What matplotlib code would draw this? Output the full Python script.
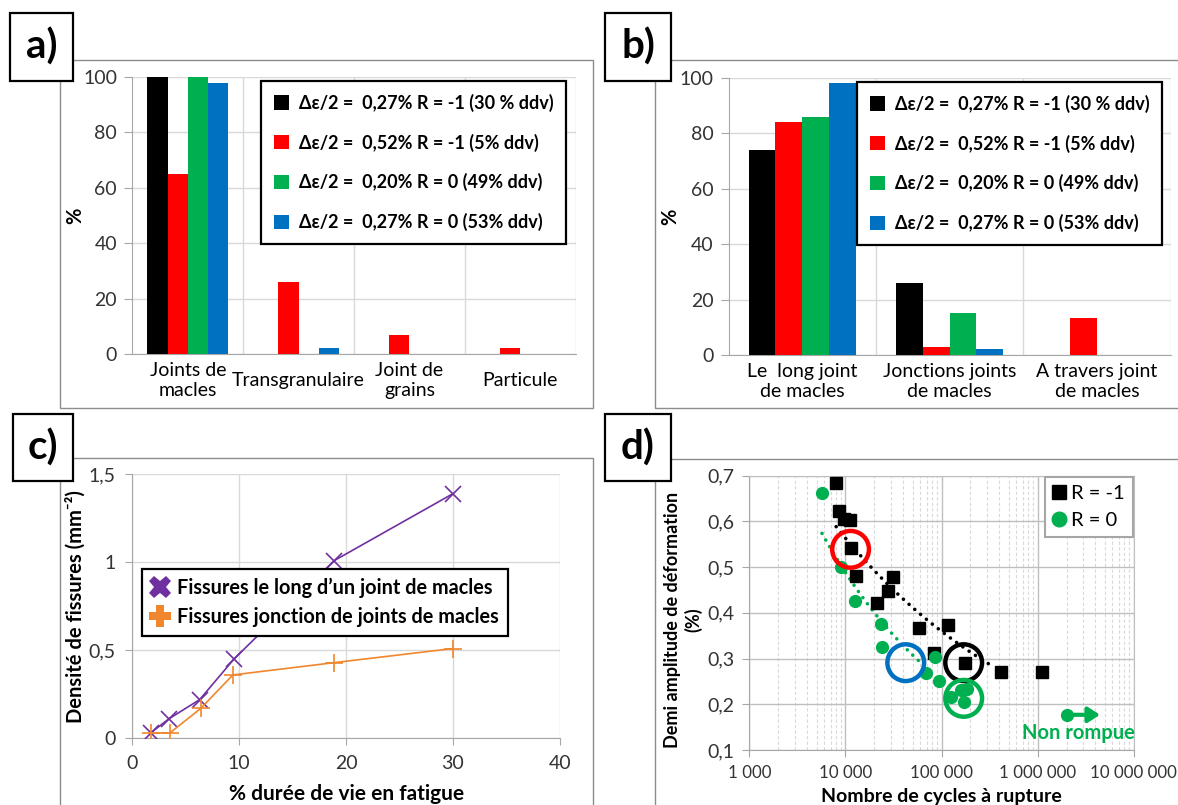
import numpy as np
import matplotlib.pyplot as plt
from matplotlib.patches import Rectangle, Patch
from matplotlib.lines import Line2D
from matplotlib.ticker import FuncFormatter, FixedLocator, LogLocator, NullFormatter

plt.rcParams['font.family'] = ['Lato', 'DejaVu Sans']

# donnees ######################################################################
series_labels = ['Δε/2 =  0,27% R = -1 (30 % ddv)',
                 'Δε/2 =  0,52% R = -1 (5% ddv)',
                 'Δε/2 =  0,20% R = 0 (49% ddv)',
                 'Δε/2 =  0,27% R = 0 (53% ddv)']
series_colors = ['#000000', '#FF0000', '#00B050', '#0070C0']

# a) site d'amorcage
cat_a = ['Joints de\nmacles', 'Transgranulaire', 'Joint de\ngrains', 'Particule']
vals_a = [[100, 0, 0, 0],
          [65, 26, 7, 2],
          [100, 0, 0, 0],
          [98, 2, 0, 0]]

# b) chemin de propagation
cat_b = ['Le  long joint\nde macles', 'Jonctions joints\nde macles', 'A travers joint\nde macles']
vals_b = [[74, 26, 0],
          [84, 3, 13.5],
          [86, 15, 0],
          [98, 2, 0]]

# c) densite de fissures
duree_long = [1.7, 3.4, 6.3, 9.5, 18.9, 30]
dens_long = [0.03, 0.11, 0.22, 0.45, 1.01, 1.39]
duree_jonc = [1.7, 3.5, 6.4, 9.4, 18.9, 30]
dens_jonc = [0.03, 0.03, 0.17, 0.36, 0.43, 0.51]

# d) courbe de Manson-Coffin
n_r1 = [8000, 8500, 9600, 11100, 11500, 12800, 21400, 27600, 31300, 57900, 116000, 84400, 175000, 411000, 1100000]
eps_r1 = [0.685, 0.623, 0.605, 0.603, 0.541, 0.481, 0.422, 0.448, 0.478, 0.366, 0.373, 0.312, 0.290, 0.270, 0.270]
n_r0 = [5740, 9080, 12700, 23700, 24000, 85000, 69700, 94400, 124000, 160000, 185000, 173000]
eps_r0 = [0.662, 0.500, 0.427, 0.376, 0.326, 0.303, 0.269, 0.252, 0.217, 0.231, 0.233, 0.206]
trend_r1 = [8000, 350000]
trend_r0 = [5700, 70000]
n_nonrompue = [2030000]
eps_nonrompue = [0.177]
cercles_n = [11300, 42400, 170000, 170000]
cercles_eps = [0.539, 0.291, 0.291, 0.213]
cercles_col = ['#FF0000', '#0070C0', '#000000', '#00B050']

# figure #######################################################################
W, H = 1178, 805
fig = plt.figure(figsize=(W / 100, H / 100), dpi=100)

def fx(x):
    return x / W

def fy(y):
    return 1 - y / H

def axes_px(x0, y0, x1, y1):
    return fig.add_axes([fx(x0), fy(y1), (x1 - x0) / W, (y1 - y0) / H])

grid_col = '#D9D9D9'
axis_col = '#A6A6A6'
tick_col = '#333333'
tick_size = 14
lab_size = 14.5

# cadres des graphes
for (x0, y0, x1, y1) in [(60, 60, 593, 408), (655, 60, 1190, 408),
                         (60, 458, 593, 815), (655, 459, 1190, 815)]:
    fig.add_artist(Rectangle((fx(x0), fy(y1)), (x1 - x0) / W, (y1 - y0) / H,
                             transform=fig.transFigure, fill=False,
                             edgecolor='#8C8C8C', lw=1, zorder=1))


def style_axes(ax):
    for s in ['top', 'right']:
        ax.spines[s].set_visible(False)
    for s in ['left', 'bottom']:
        ax.spines[s].set_color(axis_col)
    ax.tick_params(colors=axis_col, labelcolor=tick_col, labelsize=tick_size)


def bar_panel(ax, cats, vals, legend_xy):
    n = len(cats)
    x = np.arange(n)
    w = 0.73 / 4
    for i in range(4):
        ax.bar(x + (i - 1.5) * w, vals[i], w, color=series_colors[i], zorder=3)
    ax.set_xlim(-0.5, n - 0.5)
    ax.set_ylim(0, 100)
    ax.set_yticks(range(0, 101, 20))
    ax.set_xticks(x)
    ax.set_xticklabels(cats, va='center', fontsize=14, color='black', linespacing=1.25)
    ax.xaxis.set_minor_locator(FixedLocator(np.arange(n) + 0.5))
    ax.grid(axis='y', color=grid_col, lw=1, zorder=0)
    ax.grid(axis='x', which='minor', color=grid_col, lw=1, zorder=0)
    style_axes(ax)
    ax.tick_params(axis='x', which='both', length=0, pad=19, labelcolor='black')
    ax.tick_params(axis='y', length=6, pad=5)
    ax.set_ylabel('%', fontsize=lab_size, fontweight='bold')
    ax.yaxis.set_label_coords(-0.107, 0.5)
    handles = [Patch(facecolor=c) for c in series_colors]
    leg = ax.legend(handles, series_labels, loc='upper left',
                    bbox_to_anchor=(fx(legend_xy[0]), fy(legend_xy[1])),
                    bbox_transform=fig.transFigure, fancybox=False,
                    edgecolor='black', framealpha=1, handlelength=0.85,
                    handleheight=0.85, handletextpad=0.55, labelspacing=1.2,
                    borderpad=0.7, borderaxespad=0,
                    prop=dict(weight='bold', size=13))
    leg.get_frame().set_linewidth(1.6)
    leg.set_zorder(5)


ax_a = axes_px(132.4, 77, 575.6, 354)
bar_panel(ax_a, cat_a, vals_a, (261, 81))

ax_b = axes_px(728.7, 77.7, 1170.5, 355)
bar_panel(ax_b, cat_b, vals_b, (857, 82))
ax_b.yaxis.set_label_coords(-0.11, 0.5)

comma = FuncFormatter(lambda v, p: ('%g' % v).replace('.', ','))

# c) ###########################################################################
ax_c = axes_px(132.4, 474.3, 559.8, 738.3)
ax_c.plot(duree_long, dens_long, color='#7030A0', lw=1.2, marker='x', ms=11, mew=1.2, zorder=3)
ax_c.plot(duree_jonc, dens_jonc, color='#F0862E', lw=1.2, marker='+', ms=13, mew=1.2, zorder=3)
ax_c.set_xlim(0, 40)
ax_c.set_ylim(0, 1.5)
ax_c.set_xticks(range(0, 41, 10))
ax_c.set_yticks([0, 0.5, 1, 1.5])
ax_c.yaxis.set_major_formatter(comma)
ax_c.grid(color=grid_col, lw=1, zorder=0)
style_axes(ax_c)
ax_c.tick_params(length=5, pad=7)
ax_c.set_ylabel('Densité de fissures (mm⁻²)', fontsize=lab_size, fontweight='bold')
ax_c.yaxis.set_label_coords(-0.109, 0.5)
ax_c.set_xlabel('% durée de vie en fatigue', fontsize=15, fontweight='bold')
ax_c.xaxis.set_label_coords(0.5, -0.175)
hc = [Line2D([], [], ls='none', marker='X', ms=16, color='#7030A0', mew=0),
      Line2D([], [], ls='none', marker='P', ms=16, color='#F0862E', mew=0)]
leg = ax_c.legend(hc, ['Fissures le long d’un joint de macles',
                       'Fissures jonction de joints de macles'],
                  loc='upper left', bbox_to_anchor=(fx(141.5), fy(568.7)),
                  bbox_transform=fig.transFigure, fancybox=False,
                  edgecolor='black', framealpha=1, handlelength=1.0,
                  handletextpad=0.35, labelspacing=0.45, borderpad=0.45,
                  borderaxespad=0, prop=dict(weight='bold', size=14.3))
leg.get_frame().set_linewidth(1.6)
leg.set_zorder(5)

# d) ###########################################################################
ax_d = axes_px(749.4, 475.7, 1133.7, 750)
ax_d.set_xscale('log')
ax_d.set_xlim(1e3, 1e7)
ax_d.set_ylim(0.1, 0.7)
ax_d.set_yticks(np.round(np.arange(0.1, 0.71, 0.1), 1))
ax_d.yaxis.set_major_formatter(comma)
ax_d.xaxis.set_major_locator(LogLocator(base=10, numticks=10))
ax_d.xaxis.set_minor_locator(LogLocator(base=10, subs=np.arange(2, 10), numticks=100))
ax_d.xaxis.set_minor_formatter(NullFormatter())
ax_d.xaxis.set_major_formatter(FuncFormatter(lambda v, p: '{:,}'.format(int(round(v))).replace(',', ' ')))
ax_d.grid(which='major', color='#BFBFBF', lw=1, zorder=0)
ax_d.grid(which='minor', axis='x', color=grid_col, lw=0.8, ls=(0, (3, 2)), zorder=0)
style_axes(ax_d)
ax_d.spines['right'].set_visible(True)
ax_d.spines['right'].set_color('#BFBFBF')
ax_d.spines['top'].set_visible(True)
ax_d.spines['top'].set_color('#BFBFBF')
ax_d.tick_params(which='major', length=5, pad=6)
ax_d.tick_params(axis='x', which='major', labelsize=12.2)
ax_d.tick_params(which='minor', length=0)


def power_fit(x, y, lims):
    b, a = np.polyfit(np.log(x), np.log(y), 1)
    xs = np.logspace(np.log10(lims[0]), np.log10(lims[1]), 120)
    return xs, np.exp(a) * xs ** b


xs, ys = power_fit(n_r1, eps_r1, trend_r1)
ax_d.plot(xs, ys, color='black', lw=2.6, ls=(0, (0.01, 2.1)), dash_capstyle='round', zorder=2)
xs, ys = power_fit(n_r0, eps_r0, trend_r0)
ax_d.plot(xs, ys, color='#00B050', lw=2.6, ls=(0, (0.01, 2.1)), dash_capstyle='round', zorder=2)

ax_d.plot(n_r1, eps_r1, ls='none', marker='s', ms=8, color='black', zorder=4)
ax_d.plot(n_r0, eps_r0, ls='none', marker='o', ms=8.5, color='#00B050', zorder=4)
ax_d.scatter(cercles_n, cercles_eps, s=700, facecolors='none', edgecolors=cercles_col, linewidths=3.2, zorder=5)

ax_d.plot(n_nonrompue, eps_nonrompue, ls='none', marker='o', ms=8.5, color='#00B050', zorder=4)
ax_d.annotate('', xy=(n_nonrompue[0] * 2.2, eps_nonrompue[0]),
              xytext=(n_nonrompue[0], eps_nonrompue[0]),
              arrowprops=dict(arrowstyle='-|>,head_length=0.7,head_width=0.45',
                              color='#00B050', lw=3, shrinkA=0, shrinkB=0))
ax_d.text(2.68e6, 0.137, 'Non rompue', color='#00B050', fontsize=14.5,
          fontweight='bold', ha='center', va='center', zorder=6)

ax_d.set_ylabel('Demi amplitude de déformation\n(%)', fontsize=13, fontweight='bold')
ax_d.yaxis.set_label_coords(-0.123, 0.474)
ax_d.set_xlabel('Nombre de cycles à rupture', fontsize=14, fontweight='bold')
ax_d.xaxis.set_label_coords(0.5, -0.14)
hd = [Line2D([], [], ls='none', marker='s', ms=10, color='black'),
      Line2D([], [], ls='none', marker='o', ms=10.5, color='#00B050')]
leg = ax_d.legend(hd, ['R = -1', 'R = 0'], loc='upper right',
                  bbox_to_anchor=(fx(1133), fy(477)), bbox_transform=fig.transFigure,
                  fancybox=False, edgecolor='#A6A6A6', framealpha=1,
                  handlelength=0.6, handletextpad=0.3, labelspacing=0.5,
                  borderpad=0.4, borderaxespad=0, prop=dict(size=14.5))
leg.get_frame().set_linewidth(1.5)
leg.set_zorder(6)

# etiquettes des graphes
for lab, (x0, y0, x1, y1) in [('a)', (10, 13, 73, 81)), ('b)', (605, 13, 671, 81)),
                              ('c)', (13, 414, 73, 481)), ('d)', (605, 414, 671, 481))]:
    fig.add_artist(Rectangle((fx(x0), fy(y1)), (x1 - x0) / W, (y1 - y0) / H,
                             transform=fig.transFigure, facecolor='white',
                             edgecolor='black', lw=1.6, zorder=10))
    fig.text(fx((x0 + x1) / 2), fy((y0 + y1) / 2), lab, fontsize=29,
             fontweight='bold', ha='center', va='center', zorder=11)

fig.savefig('out.png', dpi=100)
